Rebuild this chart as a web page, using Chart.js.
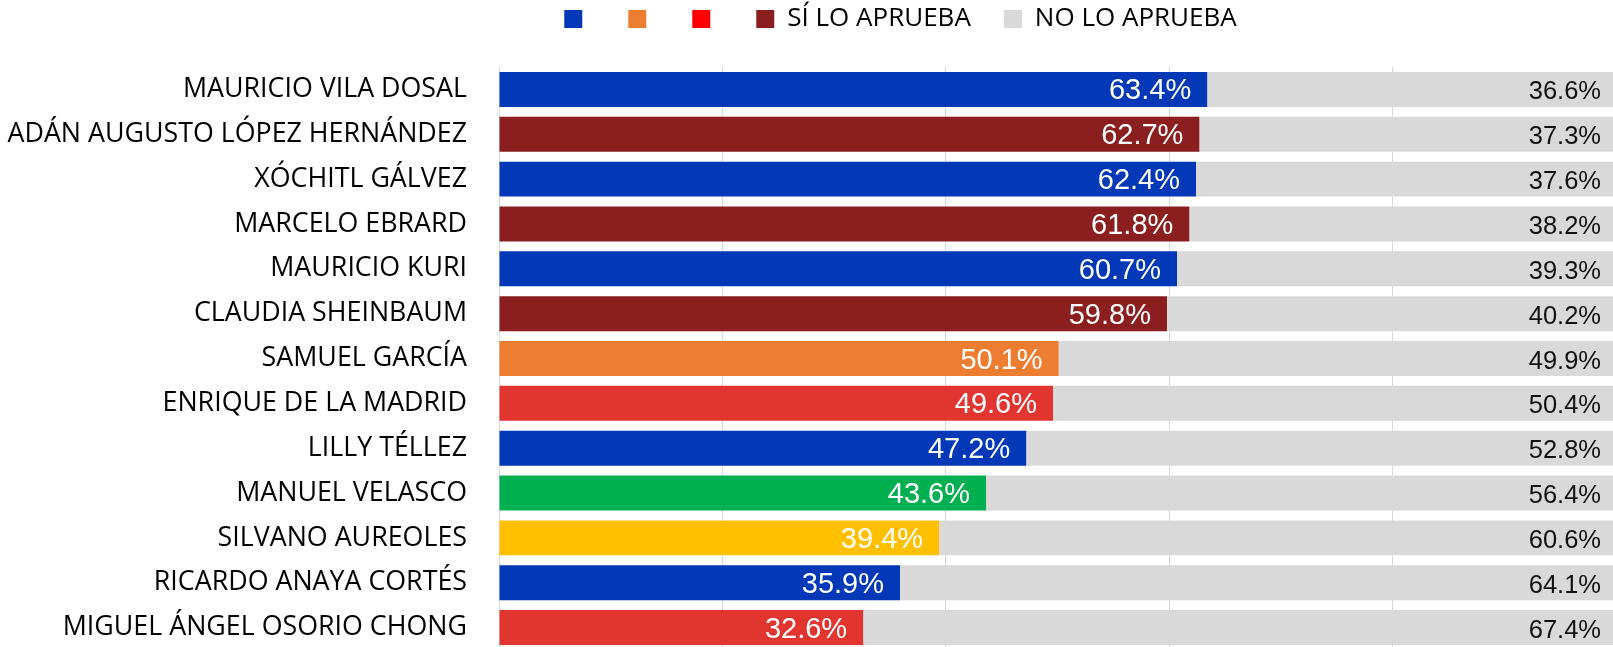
<!DOCTYPE html>
<html>
<head>
<meta charset="utf-8">
<script src="https://cdn.jsdelivr.net/npm/chart.js@4.4.1/dist/chart.umd.min.js"></script>
<style>
  html, body { margin: 0; padding: 0; background: #fff; overflow: hidden; }
  #wrap { width: 1617px; height: 651px; }
</style>
</head>
<body>
<div id="wrap"><canvas id="aprobacion" width="1617" height="651"></canvas></div>
<script>
// datos
const nombres = [
    'MAURICIO VILA DOSAL',
    'ADÁN AUGUSTO LÓPEZ HERNÁNDEZ',
    'XÓCHITL GÁLVEZ',
    'MARCELO EBRARD',
    'MAURICIO KURI',
    'CLAUDIA SHEINBAUM',
    'SAMUEL GARCÍA',
    'ENRIQUE DE LA MADRID',
    'LILLY TÉLLEZ',
    'MANUEL VELASCO',
    'SILVANO AUREOLES',
    'RICARDO ANAYA CORTÉS',
    'MIGUEL ÁNGEL OSORIO CHONG'
];
const siAprueba = [63.4, 62.7, 62.4, 61.8, 60.7, 59.8, 50.1, 49.6, 47.2, 43.6, 39.4, 35.9, 32.6];
const noAprueba = [36.6, 37.3, 37.6, 38.2, 39.3, 40.2, 49.9, 50.4, 52.8, 56.4, 60.6, 64.1, 67.4];
const coloresSi = [
    '#0038b8', '#8b1e1e', '#0038b8', '#8b1e1e', '#0038b8', '#8b1e1e',
    '#ed7d31', '#e3352f', '#0038b8', '#00b050', '#ffc000', '#0038b8', '#e3352f'
];
const colorNo = '#d9d9d9';

// leyenda
const leyendaTextos = ['', '', '', 'SÍ LO APRUEBA', 'NO LO APRUEBA'];
const leyendaColores = ['#0038b8', '#ed7d31', '#ff0000', '#8b1e1e', '#d9d9d9'];

const LEGEND_H = 67;
const LEGEND_PAD = 33;
const LEGEND_Y = 6;
const LEGEND_SHIFT = 92;

// Legend position tweak
const legendTweak = {
    id: 'legendTweak',
    beforeLayout(chart) {
        const lg = chart.legend;
        if (lg && !lg._patched) {
            const fit = lg.fit;
            lg.fit = function () {
                fit.call(this);
                this.height = LEGEND_H;
            };
            lg._patched = true;
        }
    },
    afterLayout(chart) {
        const lg = chart.legend;
        lg.left = LEGEND_SHIFT;
        lg.right = chart.width + LEGEND_SHIFT;
        lg.top = LEGEND_Y - LEGEND_PAD;
        lg.bottom = lg.top + LEGEND_H;
    }
};

// Value labels
const etiquetas = {
    id: 'etiquetas',
    afterDatasetsDraw(chart) {
        const ctx = chart.ctx;
        ctx.save();
        ctx.textAlign = 'right';
        ctx.textBaseline = 'middle';
        chart.data.datasets.forEach((ds, i) => {
            const meta = chart.getDatasetMeta(i);
            meta.data.forEach((bar, j) => {
                if (i === 0) {
                    ctx.fillStyle = '#ffffff';
                    ctx.font = '29px "Liberation Sans"';
                    ctx.fillText(ds.data[j].toFixed(1) + '%', bar.x - 16, bar.y + 2);
                } else {
                    ctx.fillStyle = '#111111';
                    ctx.font = '25.5px "Liberation Sans"';
                    ctx.fillText(ds.data[j].toFixed(1) + '%', bar.x - 15, bar.y + 3);
                }
            });
        });
        ctx.restore();
    }
};

new Chart(document.getElementById('aprobacion'), {
    type: 'bar',
    data: {
        labels: nombres,
        datasets: [
            {
                label: 'SÍ LO APRUEBA',
                data: siAprueba,
                backgroundColor: coloresSi,
                borderWidth: 0,
                barPercentage: 1,
                categoryPercentage: 0.78
            },
            {
                label: 'NO LO APRUEBA',
                data: noAprueba,
                backgroundColor: colorNo,
                borderWidth: 0,
                barPercentage: 1,
                categoryPercentage: 0.78
            }
        ]
    },
    options: {
        indexAxis: 'y',
        responsive: false,
        animation: false,
        layout: { padding: { left: 0, right: 1, top: 0, bottom: 1 } },
        plugins: {
            tooltip: { enabled: false },
            legend: {
                position: 'top',
                labels: {
                    boxWidth: 18,
                    boxHeight: 18,
                    padding: LEGEND_PAD,
                    color: '#000',
                    font: { family: 'Open Sans', size: 26 },
                    generateLabels: function () {
                        return leyendaTextos.map((t, k) => ({
                            text: t,
                            fillStyle: leyendaColores[k],
                            strokeStyle: leyendaColores[k],
                            lineWidth: 0,
                            hidden: false,
                            datasetIndex: k
                        }));
                    }
                }
            }
        },
        scales: {
            x: {
                stacked: true,
                min: 0,
                max: 100,
                ticks: { display: false, stepSize: 20 },
                grid: { color: '#d9d9d9', lineWidth: 1, drawTicks: false },
                border: { display: false }
            },
            y: {
                stacked: true,
                afterFit: function (scale) {
                    scale.width = 499;
                    scale.paddingTop = 0;
                    scale.paddingBottom = 0;
                },
                ticks: {
                    autoSkip: false,
                    padding: 32,
                    color: '#000',
                    font: { family: 'Open Sans', size: 26.8 }
                },
                grid: { display: false, drawTicks: false },
                border: { display: false }
            }
        }
    },
    plugins: [legendTweak, etiquetas]
});
</script>
</body>
</html>
